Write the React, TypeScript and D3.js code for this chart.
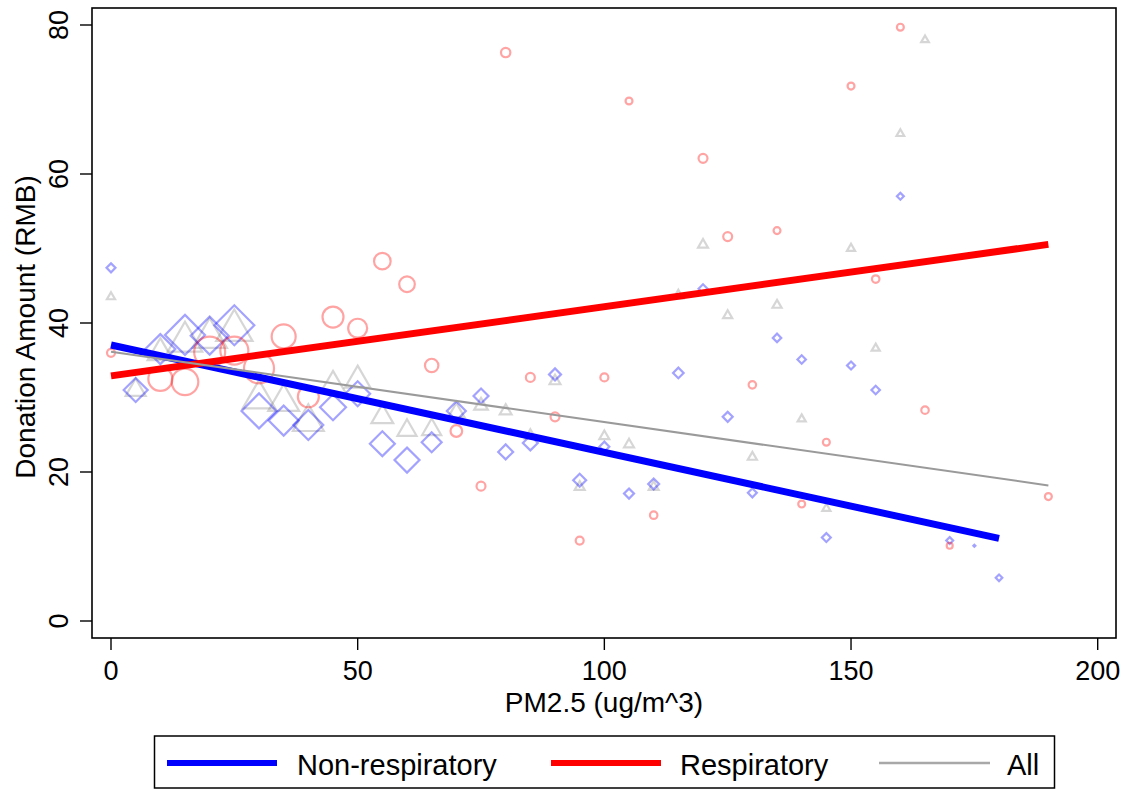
import React from 'react';
import * as d3 from 'd3';

// ---------- Data ----------
const xTicks = [0, 50, 100, 150, 200];
const yTicks = [0, 20, 40, 60, 80];

// Non-respiratory (hollow diamonds)
const nonRespX = [0, 5, 10, 15, 20, 25, 30, 35, 40, 45, 50, 55, 60, 65, 70, 75, 80, 85, 90, 95, 100, 105, 110, 115, 120, 125, 130, 135, 140, 145, 150, 155, 160, 170, 175, 180];
const nonRespY = [47.4, 31, 36.5, 38.4, 38.3, 39.7, 28.2, 26.9, 26.3, 28.7, 30.5, 23.8, 21.6, 24, 28.2, 30.2, 22.7, 23.9, 33.1, 18.9, 23.4, 17.1, 18.4, 33.3, 44.6, 27.4, 17.2, 38, 35.1, 11.2, 34.3, 31, 57, 10.8, 10.1, 5.8];
const nonRespObs = [20, 144, 225, 400, 361, 400, 306, 225, 225, 169, 156, 156, 156, 100, 90, 56, 56, 56, 36, 42, 25, 25, 30, 28, 20, 25, 20, 18, 18, 20, 16, 18, 12, 12, 1, 11];

// Respiratory (hollow circles)
const respX = [0, 10, 15, 20, 25, 30, 35, 40, 45, 50, 55, 60, 65, 70, 75, 80, 85, 90, 95, 100, 105, 110, 120, 125, 130, 135, 140, 145, 150, 155, 160, 165, 170, 190];
const respY = [36, 32.5, 32.1, 36.1, 36.3, 33.9, 38.2, 30.1, 40.8, 39.3, 48.3, 45.2, 34.3, 25.5, 18.1, 76.3, 32.7, 27.4, 10.8, 32.7, 69.8, 14.2, 62.1, 51.6, 31.7, 52.4, 15.7, 24, 71.8, 45.9, 79.7, 28.3, 10.1, 16.7];
const respObs = [16, 144, 177, 240, 196, 225, 144, 110, 110, 90, 69, 61, 45, 34, 20, 22, 20, 20, 16, 16, 12, 14, 20, 20, 14, 12, 12, 12, 12, 14, 12, 14, 9, 12];

// All (hollow triangles)
const allX = [0, 5, 10, 15, 20, 25, 30, 35, 40, 45, 50, 55, 60, 65, 70, 75, 80, 85, 90, 95, 100, 105, 110, 115, 120, 125, 130, 135, 140, 145, 150, 155, 160, 165];
const allY = [43.5, 31, 36, 37.5, 38, 39, 29.8, 29.4, 26.7, 31.6, 32.3, 27.4, 25.6, 25.7, 28, 28.9, 28.2, 24.9, 32.2, 18, 24.8, 23.7, 18, 43.7, 50.5, 41, 22, 42.4, 27.1, 15.1, 50, 36.6, 65.4, 78];
const allObs = [20, 121, 196, 361, 361, 400, 324, 289, 289, 196, 196, 144, 110, 110, 81, 56, 42, 36, 36, 30, 30, 30, 30, 30, 30, 25, 25, 25, 20, 20, 20, 20, 18, 18];

// Linear fits: [x start, x end], [intercept, slope]
const fitNonRespRange = [0, 180];
const fitNonRespCoef = [37.05, -0.1442];
const fitRespRange = [0, 190];
const fitRespCoef = [32.9, 0.0929];
const fitAllRange = [0, 190];
const fitAllCoef = [36.15, -0.0945];

const legendLabels = ['Non-respiratory', 'Respiratory', 'All'];

// ---------- Layout ----------
const W = 1131;
const H = 790;
const box = { left: 92, right: 1116, top: 8, bottom: 638 };
const FONT = '"Liberation Sans", Arial, Helvetica, sans-serif';

const x = d3.scaleLinear().domain([0, 200]).range([111, 1097.7]);
const y = d3.scaleLinear().domain([0, 80]).range([621, 25]);
const rScale = d3.scaleSqrt().domain([0, 400]).range([0, 20]);

const diamond = (r: number) => d3.symbol().type(d3.symbolSquare).size(2 * r * r)() as string;
const triangle = (r: number) => d3.symbol().type(d3.symbolTriangle).size((3 * Math.sqrt(3) * r * r) / 4)() as string;

function fitPath(range: number[], coef: number[]) {
  const pts: any = range.map((v) => [v, coef[0] + coef[1] * v]);
  return d3.line().x((d: any) => x(d[0])).y((d: any) => y(d[1]))(pts) as string;
}

export default function App() {
  return (
    <svg width={W} height={H} style={{ position: 'absolute', left: 0, top: 0, background: '#fff' }} fontFamily={FONT}>
      <rect x={0} y={0} width={W} height={H} fill="#fff" />
      {/* markers */}
      <g fill="none" strokeWidth={2.2}>
        {allX.map((v, i) => (
          <path key={'a' + i} d={triangle(rScale(allObs[i]) * 1.05)} transform={`translate(${x(v)},${y(allY[i])})`} stroke="rgba(120,120,120,0.3)" />
        ))}
        {nonRespX.map((v, i) => (
          <path key={'n' + i} d={diamond(rScale(nonRespObs[i]))} transform={`translate(${x(v)},${y(nonRespY[i])}) rotate(45)`} stroke="rgba(0,0,255,0.36)" />
        ))}
        {respX.map((v, i) => (
          <circle key={'r' + i} cx={x(v)} cy={y(respY[i])} r={rScale(respObs[i])} stroke="rgba(255,0,0,0.36)" />
        ))}
      </g>
      {/* fit lines */}
      <path d={fitPath(fitNonRespRange, fitNonRespCoef)} stroke="#0000ff" strokeWidth={7} fill="none" />
      <path d={fitPath(fitRespRange, fitRespCoef)} stroke="#ff0000" strokeWidth={7} fill="none" />
      <path d={fitPath(fitAllRange, fitAllCoef)} stroke="#9a9a9a" strokeWidth={2} fill="none" />
      {/* plot box */}
      <rect x={box.left} y={box.top} width={box.right - box.left} height={box.bottom - box.top} fill="none" stroke="#000" strokeWidth={1.6} />
      {/* x ticks */}
      {xTicks.map((t) => (
        <g key={'xt' + t}>
          <line x1={x(t)} x2={x(t)} y1={box.bottom} y2={box.bottom + 12} stroke="#000" strokeWidth={1.4} />
          <text x={x(t)} y={680} textAnchor="middle" fontSize={27}>{t}</text>
        </g>
      ))}
      {/* y ticks */}
      {yTicks.map((t) => (
        <g key={'yt' + t}>
          <line x1={box.left - 12} x2={box.left} y1={y(t)} y2={y(t)} stroke="#000" strokeWidth={1.4} />
          <text transform={`translate(68,${y(t)}) rotate(-90)`} textAnchor="middle" fontSize={27}>{t}</text>
        </g>
      ))}
      {/* axis titles */}
      <text x={604} y={712} textAnchor="middle" fontSize={28}>PM2.5 (ug/m^3)</text>
      <text transform={`translate(35,327) rotate(-90)`} textAnchor="middle" fontSize={28}>Donation Amount (RMB)</text>
      {/* legend */}
      <rect x={154.5} y={736} width={900} height={52} fill="#fff" stroke="#000" strokeWidth={1.5} />
      <line x1={167} x2={277} y1={763} y2={763} stroke="#0000ff" strokeWidth={6} />
      <text x={297} y={775} fontSize={29}>{legendLabels[0]}</text>
      <line x1={551} x2={661} y1={763} y2={763} stroke="#ff0000" strokeWidth={6} />
      <text x={680} y={775} fontSize={29}>{legendLabels[1]}</text>
      <line x1={879} x2={990} y1={763} y2={763} stroke="#a8a8a8" strokeWidth={2.5} />
      <text x={1007} y={775} fontSize={29}>{legendLabels[2]}</text>
    </svg>
  );
}
